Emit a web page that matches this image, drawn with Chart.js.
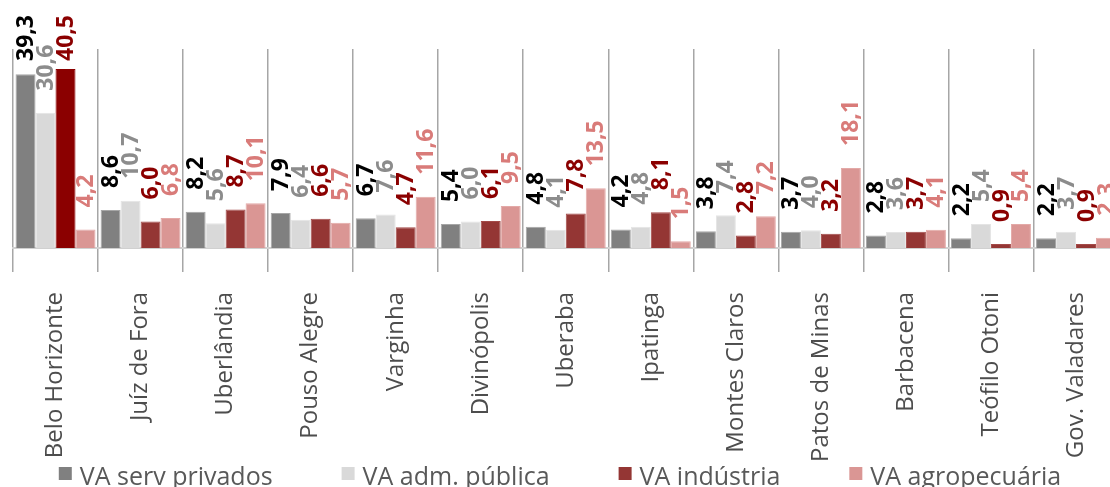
<!DOCTYPE html>
<html lang="pt-BR">
<head>
<meta charset="UTF-8" />
<title>Valor adicionado por município</title>
<script src="https://cdn.jsdelivr.net/npm/chart.js"></script>
<style>
  html, body { margin: 0; padding: 0; background: #fff; overflow: hidden; }
  #caixa { width: 1125px; height: 495px; }
</style>
</head>
<body>
<div id="caixa"><canvas id="grafico" width="1125" height="495"></canvas></div>
<script>
  const municipios = ['Belo Horizonte', 'Juíz de Fora', 'Uberlândia', 'Pouso Alegre', 'Varginha', 'Divinópolis',
    'Uberaba', 'Ipatinga', 'Montes Claros', 'Patos de Minas', 'Barbacena', 'Teófilo Otoni', 'Gov. Valadares'];
  const servPrivados = [39.3, 8.6, 8.2, 7.9, 6.7, 5.4, 4.8, 4.2, 3.8, 3.7, 2.8, 2.2, 2.2];
  const admPublica   = [30.6, 10.7, 5.6, 6.4, 7.6, 6.0, 4.1, 4.8, 7.4, 4.0, 3.6, 5.4, 3.7];
  const industria    = [40.5, 6.0, 8.7, 6.6, 4.7, 6.1, 7.8, 8.1, 2.8, 3.2, 3.7, 0.9, 0.9];
  const agropecuaria = [4.2, 6.8, 10.1, 5.7, 11.6, 9.5, 13.5, 1.5, 7.2, 18.1, 4.1, 5.4, 2.3];
  const nomesSeries = ['VA serv privados', 'VA adm. pública', 'VA indústria', 'VA agropecuária'];

  function virgula(v) {
    return v.toFixed(1).replace('.', ',');
  }

  // rótulos de valor girados, como no Excel (limitados ao topo da área)
  const rotulosValores = {
    id: 'rotulosValores',
    afterDatasetsDraw(chart) {
      const ctx = chart.ctx;
      ctx.save();
      ctx.font = 'bold 23px "Open Sans"';
      ctx.textBaseline = 'middle';
      ctx.textAlign = 'left';
      chart.data.datasets.forEach((ds, i) => {
        chart.getDatasetMeta(i).data.forEach((bar, j) => {
          const txt = virgula(ds.data[j]);
          const w = ctx.measureText(txt).width;
          let y0 = bar.y - 22;
          if (y0 - w < 15) y0 = 15 + w;
          ctx.save();
          ctx.translate(bar.x + 1, y0);
          ctx.rotate(-Math.PI / 2);
          ctx.fillStyle = ds.corRotulo;
          ctx.fillText(txt, 0, 0);
          ctx.restore();
        });
      });
      ctx.restore();
    }
  };

  // legenda embaixo, cortada pela borda da janela
  const legenda = {
    id: 'legenda',
    afterDraw(chart) {
      const ctx = chart.ctx;
      ctx.save();
      ctx.font = '25px "Open Sans"';
      ctx.textBaseline = 'alphabetic';
      ctx.textAlign = 'left';
      const caixa = 13, folga = 8, espaco = 69;
      const itens = chart.data.datasets.map(ds => ({
        texto: ds.label, cor: ds.corLegenda,
        w: ctx.measureText(ds.label).width
      }));
      const total = itens.reduce((s, it) => s + caixa + folga + it.w, 0) + espaco * (itens.length - 1);
      let x = 560 - total / 2;
      const base = 485;
      itens.forEach(it => {
        ctx.fillStyle = it.cor;
        ctx.fillRect(x, base - 18, caixa, caixa);
        ctx.fillStyle = '#595959';
        ctx.fillText(it.texto, x + caixa + folga, base);
        x += caixa + folga + it.w + espaco;
      });
      ctx.restore();
    }
  };

  const ctx = document.getElementById('grafico').getContext('2d');
  new Chart(ctx, {
    type: 'bar',
    data: {
      labels: municipios,
      datasets: [
        { label: nomesSeries[0], data: servPrivados, backgroundColor: '#808080', borderColor: '#a6a6a6',
          borderWidth: 1, corRotulo: '#000000', corLegenda: '#808080' },
        { label: nomesSeries[1], data: admPublica, backgroundColor: '#d9d9d9', borderColor: '#e4e4e4',
          borderWidth: 1, corRotulo: '#8c8c8c', corLegenda: '#d9d9d9' },
        { label: nomesSeries[2], data: industria,
          backgroundColor: c => c.dataIndex === 0 ? '#8b0000' : '#943634',
          borderColor: c => c.dataIndex === 0 ? '#8b0000' : '#a34a48',
          borderWidth: 1, corRotulo: '#8b0000', corLegenda: '#943634' },
        { label: nomesSeries[3], data: agropecuaria, backgroundColor: '#da9694', borderColor: '#e3a9a7',
          borderWidth: 1, corRotulo: '#d97b79', corLegenda: '#da9694' }
      ]
    },
    options: {
      responsive: false,
      animation: false,
      devicePixelRatio: 1,
      layout: { padding: { top: 49, left: 13, right: 5, bottom: 0 } },
      datasets: { bar: { categoryPercentage: 0.94, barPercentage: 1 } },
      plugins: { legend: { display: false }, tooltip: { enabled: false } },
      scales: {
        x: {
          grid: { color: '#a6a6a6', lineWidth: 1.5, tickLength: 24, offset: true },
          border: { color: '#d0d0d0', width: 2 },
          ticks: { color: '#4d4d4d', font: { family: 'Open Sans', size: 24 },
                   maxRotation: 90, minRotation: 90, padding: 20, autoSkip: false },
          afterFit(s) { s.height = 247; }
        },
        y: { display: false, min: 0, max: 45 }
      }
    },
    plugins: [rotulosValores, legenda]
  });
</script>
</body>
</html>
